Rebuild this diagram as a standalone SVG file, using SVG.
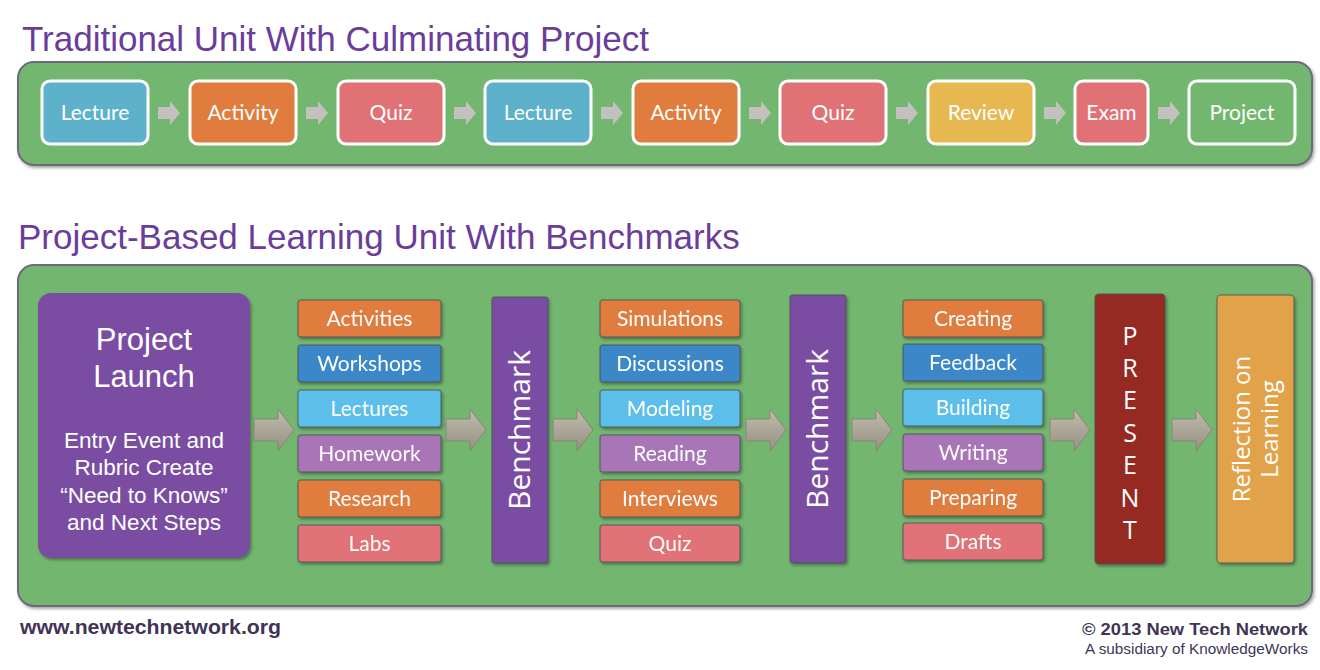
<svg xmlns="http://www.w3.org/2000/svg" width="1320" height="670" viewBox="0 0 1320 670">
<defs>
<style>
.title{font-family:"Liberation Sans",Arial,sans-serif;font-size:35px;fill:#6a3d9a}
.panel{fill:#72b66f;stroke:#6d6a80;stroke-width:2}
.tb{stroke:#ffffff;stroke-width:3}
.tl{font-family:Lato,"Open Sans",sans-serif;font-size:21px;fill:#ffffff;text-anchor:middle}
.cb{stroke:#4a4a55;stroke-opacity:0.55;stroke-width:1.5}
.cl{font-family:Lato,"Open Sans",sans-serif;font-size:21px;fill:#ffffff;text-anchor:middle}
.big{font-family:"Liberation Sans",Arial,sans-serif;fill:#ffffff;text-anchor:middle}
.vt{font-family:"Open Sans",Lato,sans-serif;fill:#ffffff;text-anchor:middle}
.or{fill:#e07b3c}.bl{fill:#3a87c8}.lb{fill:#5cbfea}.pu{fill:#a874b6}.rd{fill:#e17277}
.foot{font-family:"Liberation Sans",Arial,sans-serif;font-weight:bold;fill:#3f3455}
</style>
<path id="sa" d="M0,-6 H12 V-12 L22,0 L12,12 V6 H0 Z" fill="#c3c1bd"/>
<linearGradient id="ag" x1="0" y1="0" x2="0" y2="1">
<stop offset="0" stop-color="#c2bdb0"/><stop offset="1" stop-color="#958f80"/>
</linearGradient>
<path id="ba" d="M0,-11 H24 V-21 L40,0 L24,21 V11 H0 Z" fill="url(#ag)" stroke="#8a8575" stroke-width="1"/>
<filter id="sh" x="-10%" y="-10%" width="130%" height="130%"><feDropShadow dx="1.5" dy="2" stdDeviation="1.5" flood-color="#000" flood-opacity="0.35"/></filter>
</defs>
<rect width="1320" height="670" fill="#ffffff"/>

<text class="title" x="22" y="51">Traditional Unit With Culminating Project</text>
<rect class="panel" x="18" y="62" width="1294" height="103" rx="16" filter="url(#sh)"/>

<text class="title" x="18" y="249">Project-Based Learning Unit With Benchmarks</text>
<rect class="panel" x="18" y="265" width="1294" height="341" rx="16" filter="url(#sh)"/>

<g id="connectors">
<use href="#sa" x="158" y="113"/>
<use href="#sa" x="306" y="113"/>
<use href="#sa" x="454" y="113"/>
<use href="#sa" x="601" y="113"/>
<use href="#sa" x="749" y="113"/>
<use href="#sa" x="896" y="113"/>
<use href="#sa" x="1044" y="113"/>
<use href="#sa" x="1158" y="113"/>
<use href="#ba" x="254" y="430"/>
<use href="#ba" x="446" y="430"/>
<use href="#ba" x="553" y="430"/>
<use href="#ba" x="746" y="430"/>
<use href="#ba" x="852" y="430"/>
<use href="#ba" x="1050" y="430"/>
<use href="#ba" x="1172" y="430"/>
</g>

<g id="t-lecture1"><rect class="tb" x="42" y="81" width="106" height="63" rx="8" fill="#5db1cb"/><text class="tl" x="95" y="120">Lecture</text></g>
<g id="t-activity1"><rect class="tb" x="190" y="81" width="106" height="63" rx="8" fill="#df7c3e"/><text class="tl" x="243" y="120">Activity</text></g>
<g id="t-quiz1"><rect class="tb" x="338" y="81" width="106" height="63" rx="8" fill="#e07276"/><text class="tl" x="391" y="120">Quiz</text></g>
<g id="t-lecture2"><rect class="tb" x="485" y="81" width="106" height="63" rx="8" fill="#5db1cb"/><text class="tl" x="538" y="120">Lecture</text></g>
<g id="t-activity2"><rect class="tb" x="633" y="81" width="106" height="63" rx="8" fill="#df7c3e"/><text class="tl" x="686" y="120">Activity</text></g>
<g id="t-quiz2"><rect class="tb" x="780" y="81" width="106" height="63" rx="8" fill="#e07276"/><text class="tl" x="833" y="120">Quiz</text></g>
<g id="t-review"><rect class="tb" x="928" y="81" width="106" height="63" rx="8" fill="#e6b84f"/><text class="tl" x="981" y="120">Review</text></g>
<g id="t-exam"><rect class="tb" x="1075" y="81" width="73" height="63" rx="8" fill="#e07276"/><text class="tl" x="1111.5" y="120">Exam</text></g>
<g id="t-project"><rect class="tb" x="1189" y="81" width="106" height="63" rx="8" fill="#72b66f"/><text class="tl" x="1242" y="120">Project</text></g>

<g id="project-launch">
<rect x="38" y="293" width="212" height="265" rx="13" fill="#7a4ea3" filter="url(#sh)"/>
<text class="big" font-size="31" x="144" y="350">Project</text>
<text class="big" font-size="31" x="144" y="387">Launch</text>
<text class="big" font-size="22.5" x="144" y="448">Entry Event and</text>
<text class="big" font-size="22.5" x="144" y="475">Rubric Create</text>
<text class="big" font-size="22.5" x="144" y="503">“Need to Knows”</text>
<text class="big" font-size="22.5" x="144" y="530">and Next Steps</text>
</g>

<g id="col1" filter="url(#sh)">
<g id="activities"><rect class="cb or" x="298" y="300" width="143" height="37" rx="3"/><text class="cl" x="369.5" y="326">Activities</text></g>
<g id="workshops"><rect class="cb bl" x="298" y="345" width="143" height="37" rx="3"/><text class="cl" x="369.5" y="371">Workshops</text></g>
<g id="lectures"><rect class="cb lb" x="298" y="390" width="143" height="37" rx="3"/><text class="cl" x="369.5" y="416">Lectures</text></g>
<g id="homework"><rect class="cb pu" x="298" y="435" width="143" height="37" rx="3"/><text class="cl" x="369.5" y="461">Homework</text></g>
<g id="research"><rect class="cb or" x="298" y="480" width="143" height="37" rx="3"/><text class="cl" x="369.5" y="506">Research</text></g>
<g id="labs"><rect class="cb rd" x="298" y="525" width="143" height="37" rx="3"/><text class="cl" x="369.5" y="551">Labs</text></g>
</g>

<g id="benchmark1">
<rect x="492" y="297" width="56" height="266" rx="3" fill="#7a4ea3" class="cb" filter="url(#sh)"/>
<text class="vt" font-size="30" transform="translate(530,430) rotate(-90)">Benchmark</text>
</g>

<g id="col2" filter="url(#sh)">
<g id="simulations"><rect class="cb or" x="600" y="300" width="140" height="37" rx="3"/><text class="cl" x="670" y="326">Simulations</text></g>
<g id="discussions"><rect class="cb bl" x="600" y="345" width="140" height="37" rx="3"/><text class="cl" x="670" y="371">Discussions</text></g>
<g id="modeling"><rect class="cb lb" x="600" y="390" width="140" height="37" rx="3"/><text class="cl" x="670" y="416">Modeling</text></g>
<g id="reading"><rect class="cb pu" x="600" y="435" width="140" height="37" rx="3"/><text class="cl" x="670" y="461">Reading</text></g>
<g id="interviews"><rect class="cb or" x="600" y="480" width="140" height="37" rx="3"/><text class="cl" x="670" y="506">Interviews</text></g>
<g id="quiz3"><rect class="cb rd" x="600" y="525" width="140" height="37" rx="3"/><text class="cl" x="670" y="551">Quiz</text></g>
</g>

<g id="benchmark2">
<rect x="790" y="295" width="56" height="268" rx="3" fill="#7a4ea3" class="cb" filter="url(#sh)"/>
<text class="vt" font-size="30" transform="translate(828,429) rotate(-90)">Benchmark</text>
</g>

<g id="col3" filter="url(#sh)">
<g id="creating"><rect class="cb or" x="903" y="300" width="140" height="37" rx="3"/><text class="cl" x="973" y="326">Creating</text></g>
<g id="feedback"><rect class="cb bl" x="903" y="344" width="140" height="37" rx="3"/><text class="cl" x="973" y="370">Feedback</text></g>
<g id="building"><rect class="cb lb" x="903" y="389" width="140" height="37" rx="3"/><text class="cl" x="973" y="415">Building</text></g>
<g id="writing"><rect class="cb pu" x="903" y="434" width="140" height="37" rx="3"/><text class="cl" x="973" y="460">Writing</text></g>
<g id="preparing"><rect class="cb or" x="903" y="479" width="140" height="37" rx="3"/><text class="cl" x="973" y="505">Preparing</text></g>
<g id="drafts"><rect class="cb rd" x="903" y="523" width="140" height="37" rx="3"/><text class="cl" x="973" y="549">Drafts</text></g>
</g>

<g id="present">
<rect x="1095" y="294" width="70" height="270" rx="4" fill="#962b23" class="cb" filter="url(#sh)"/>
<text class="vt" font-size="25" x="1130" y="345">P</text>
<text class="vt" font-size="25" x="1130" y="377">R</text>
<text class="vt" font-size="25" x="1130" y="409">E</text>
<text class="vt" font-size="25" x="1130" y="442">S</text>
<text class="vt" font-size="25" x="1130" y="474">E</text>
<text class="vt" font-size="25" x="1130" y="507">N</text>
<text class="vt" font-size="25" x="1130" y="539">T</text>
</g>

<g id="reflection">
<rect x="1217" y="295" width="77" height="268" rx="4" fill="#e1a24a" class="cb" filter="url(#sh)"/>
<text class="vt" font-size="24" transform="translate(1250,429) rotate(-90)">Reflection on</text>
<text class="vt" font-size="24" transform="translate(1278,429) rotate(-90)">Learning</text>
</g>

<text class="foot" font-size="20" x="20" y="634" textLength="261" lengthAdjust="spacingAndGlyphs">www.newtechnetwork.org</text>
<text class="foot" font-size="17" x="1082" y="635" textLength="226" lengthAdjust="spacingAndGlyphs">© 2013 New Tech Network</text>
<text font-family="Liberation Sans,Arial,sans-serif" font-size="14" fill="#3f3455" x="1085" y="654" textLength="223" lengthAdjust="spacingAndGlyphs">A subsidiary of KnowledgeWorks</text>
</svg>
